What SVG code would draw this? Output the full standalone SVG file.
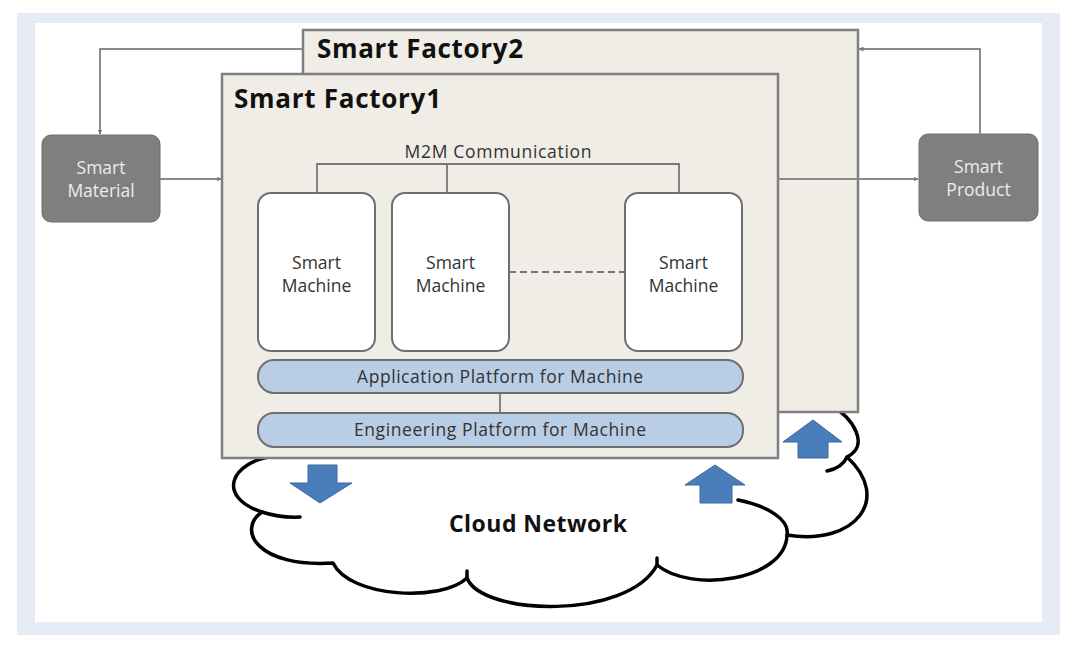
<svg xmlns="http://www.w3.org/2000/svg" width="1080" height="647" viewBox="0 0 1080 647">
<defs>
<marker id="ah" viewBox="0 0 10 10" refX="9" refY="5" markerWidth="5" markerHeight="5" orient="auto" markerUnits="userSpaceOnUse">
<path d="M0,0 L10,5 L0,10 z" fill="#7a7a7a"/>
</marker>
<style>
.factory{fill:#EFEDE6;stroke:#7F7F7F;stroke-width:2.5}
.ftitle{font-family:"Open Sans","Noto Sans",sans-serif;font-weight:700;font-size:26px;fill:#111}
.machine{fill:#FFFFFF;stroke:#6f6f6f;stroke-width:2}
.mtext{font-family:"Open Sans","Noto Sans",sans-serif;font-size:17.5px;fill:#333;text-anchor:middle}
.plat{fill:#B9CDE5;stroke:#6f6f6f;stroke-width:2}
.ptext{font-family:"Open Sans","Noto Sans",sans-serif;font-size:17.5px;fill:#333;text-anchor:middle}
.gbox{fill:#7F7F7F;stroke:#6e6e6e;stroke-width:1}
.gtext{font-family:"Open Sans","Noto Sans",sans-serif;font-size:17.5px;fill:#ECECEC;text-anchor:middle}
.conn{fill:none;stroke:#8a8a8a;stroke-width:2}
.inner{fill:none;stroke:#777;stroke-width:1.8}
.blue{fill:#4A7EBB;stroke:#3A679C;stroke-width:1}
.cloud{fill:#FFFFFF;stroke:#000;stroke-width:3.5;stroke-linejoin:round}
.tail{fill:none;stroke:#000;stroke-width:3.5;stroke-linecap:round}
</style>
</defs>

<rect x="0" y="0" width="1080" height="647" fill="#FFFFFF"/>
<rect x="17" y="13" width="1043" height="622" fill="#E6ECF5"/>
<rect x="35" y="23" width="1007" height="599" fill="#FFFFFF"/>

<g id="cloud">
<path class="cloud" d="M 274 456 C 230 462 216 497 262 512 C 236 530 258 568 333 563 C 350 598 442 602 467 578 C 482 616 628 620 657 565 C 692 594 786 580 787 535 C 856 546 892 498 847 457 C 870 446 854 418 830 405 L 700 405 L 274 440 Z"/>
<path class="tail" d="M 262 512 Q 280 518 300 517"/>
<path class="tail" d="M 467 578 L 467 571"/>
<path class="tail" d="M 657 565 L 657 558"/>
<path class="tail" d="M 738 500 C 768 506 790 520 787 535"/>
<path class="tail" d="M 847 457 Q 842 468 827 471"/>
<text x="538" y="532" text-anchor="middle" font-family="'Open Sans','Noto Sans',sans-serif" font-weight="700" font-size="23" fill="#111" textLength="178" lengthAdjust="spacing">Cloud Network</text>
</g>

<g id="factory2">
<rect class="factory" x="303" y="30" width="555" height="382"/>
<text class="ftitle" x="317" y="58" textLength="206" lengthAdjust="spacing">Smart Factory2</text>
</g>

<g id="factory1">
<rect class="factory" x="222" y="74" width="556" height="384"/>
<text class="ftitle" x="234" y="108" textLength="207" lengthAdjust="spacing">Smart Factory1</text>
<text x="498" y="158" text-anchor="middle" font-family="'Open Sans','Noto Sans',sans-serif" font-size="17.5" fill="#333" textLength="187" lengthAdjust="spacing">M2M Communication</text>
</g>

<g id="machine1">
<rect class="machine" x="258" y="193" width="117" height="158" rx="13"/>
<text class="mtext" x="316.5" y="269">Smart</text>
<text class="mtext" x="316.5" y="292">Machine</text>
</g>
<g id="machine2">
<rect class="machine" x="392" y="193" width="117" height="158" rx="13"/>
<text class="mtext" x="450.5" y="269">Smart</text>
<text class="mtext" x="450.5" y="292">Machine</text>
</g>
<g id="machine3">
<rect class="machine" x="625" y="193" width="117" height="158" rx="13"/>
<text class="mtext" x="683.5" y="269">Smart</text>
<text class="mtext" x="683.5" y="292">Machine</text>
</g>

<g id="app-platform">
<rect class="plat" x="258" y="360" width="485" height="33" rx="16"/>
<text class="ptext" x="500" y="383" textLength="286" lengthAdjust="spacing">Application Platform for Machine</text>
</g>
<g id="eng-platform">
<rect class="plat" x="258" y="413" width="485" height="34" rx="16"/>
<text class="ptext" x="500" y="436" textLength="292" lengthAdjust="spacing">Engineering Platform for Machine</text>
</g>

<g id="smart-material">
<rect class="gbox" x="42" y="135" width="118" height="87" rx="9"/>
<text class="gtext" x="101" y="174">Smart</text>
<text class="gtext" x="101" y="197">Material</text>
</g>
<g id="smart-product">
<rect class="gbox" x="919" y="134" width="119" height="87" rx="9"/>
<text class="gtext" x="978.5" y="173">Smart</text>
<text class="gtext" x="978.5" y="196">Product</text>
</g>

<g id="connectors">
<path class="conn" d="M 303 49 H 100 V 134" marker-end="url(#ah)"/>
<path class="conn" d="M 980 134 V 49 H 859" marker-end="url(#ah)"/>
<path class="conn" d="M 160 179 H 221" marker-end="url(#ah)"/>
<path class="conn" d="M 778 179 H 918" marker-end="url(#ah)"/>
<path class="inner" d="M 317 193 V 164 H 679 V 193 M 447 164 V 193"/>
<path class="inner" d="M 509 272 H 625" stroke-dasharray="7,4" stroke-width="2.2"/>
<path class="inner" d="M 500 393 V 413"/>
</g>

<g id="flow-arrows">
<path class="blue" d="M 308 465 H 337 V 483 H 352 L 320 503 L 290 483 H 308 Z"/>
<path class="blue" d="M 715 465 L 745 485 H 732 V 503 H 700 V 485 H 685 Z"/>
<path class="blue" d="M 813 420 L 842 442 H 828 V 458 H 798 V 442 H 783 Z"/>
</g>
</svg>
